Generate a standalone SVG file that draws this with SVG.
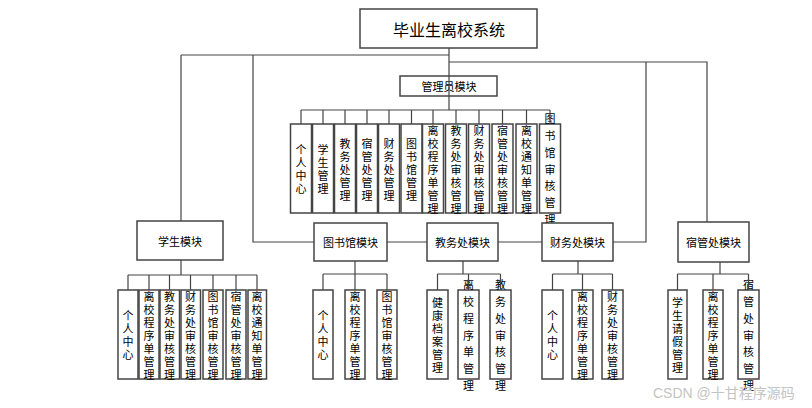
<svg xmlns="http://www.w3.org/2000/svg" width="812" height="408" viewBox="0 0 812 408">
<style>
.b{fill:#fff;stroke:#444;stroke-width:1.5}
.t{font-family:"Noto Sans CJK SC","Noto Sans",sans-serif;font-size:11px;fill:#000;text-anchor:middle;dominant-baseline:central}
.ti{font-size:16px}
.ln{stroke:#444;stroke-width:1.2;fill:none}
.wm{font-family:"Liberation Sans","Noto Sans CJK SC",sans-serif;font-size:14px;fill:#c4c4c4}
</style>
<rect width="812" height="408" fill="#fff"/>
<g id="root"><rect class="b" x="360" y="9" width="177" height="39"/><text class="t ti" x="449" y="29">毕业生离校系统</text></g>
<g id="admin"><rect class="b" x="400" y="76" width="97" height="20"/><text class="t" x="449" y="86">管理员模块</text></g>
<g id="admin-children">
<rect class="b" x="290.5" y="124" width="21" height="89"/><text class="t" x="301" y="149">个<tspan x="301" dy="13">人</tspan><tspan x="301" dy="13">中</tspan><tspan x="301" dy="13">心</tspan></text>
<rect class="b" x="312.5" y="124" width="21" height="89"/><text class="t" x="323" y="149">学<tspan x="323" dy="13">生</tspan><tspan x="323" dy="13">管</tspan><tspan x="323" dy="13">理</tspan></text>
<rect class="b" x="334.5" y="124" width="21" height="89"/><text class="t" x="345" y="142.5">教<tspan x="345" dy="13">务</tspan><tspan x="345" dy="13">处</tspan><tspan x="345" dy="13">管</tspan><tspan x="345" dy="13">理</tspan></text>
<rect class="b" x="356.5" y="124" width="21" height="89"/><text class="t" x="367" y="142.5">宿<tspan x="367" dy="13">管</tspan><tspan x="367" dy="13">处</tspan><tspan x="367" dy="13">管</tspan><tspan x="367" dy="13">理</tspan></text>
<rect class="b" x="378.5" y="124" width="21" height="89"/><text class="t" x="389" y="142.5">财<tspan x="389" dy="13">务</tspan><tspan x="389" dy="13">处</tspan><tspan x="389" dy="13">管</tspan><tspan x="389" dy="13">理</tspan></text>
<rect class="b" x="401" y="124" width="21" height="89"/><text class="t" x="411.5" y="142.5">图<tspan x="411.5" dy="13">书</tspan><tspan x="411.5" dy="13">馆</tspan><tspan x="411.5" dy="13">管</tspan><tspan x="411.5" dy="13">理</tspan></text>
<rect class="b" x="422.5" y="124" width="21" height="89"/><text class="t" x="433" y="129.5">离<tspan x="433" dy="13">校</tspan><tspan x="433" dy="13">程</tspan><tspan x="433" dy="13">序</tspan><tspan x="433" dy="13">单</tspan><tspan x="433" dy="13">管</tspan><tspan x="433" dy="13">理</tspan></text>
<rect class="b" x="445.5" y="124" width="21" height="89"/><text class="t" x="456" y="129.5">教<tspan x="456" dy="13">务</tspan><tspan x="456" dy="13">处</tspan><tspan x="456" dy="13">审</tspan><tspan x="456" dy="13">核</tspan><tspan x="456" dy="13">管</tspan><tspan x="456" dy="13">理</tspan></text>
<rect class="b" x="468.5" y="124" width="21" height="89"/><text class="t" x="479" y="129.5">财<tspan x="479" dy="13">务</tspan><tspan x="479" dy="13">处</tspan><tspan x="479" dy="13">审</tspan><tspan x="479" dy="13">核</tspan><tspan x="479" dy="13">管</tspan><tspan x="479" dy="13">理</tspan></text>
<rect class="b" x="492" y="124" width="21" height="89"/><text class="t" x="502.5" y="129.5">宿<tspan x="502.5" dy="13">管</tspan><tspan x="502.5" dy="13">处</tspan><tspan x="502.5" dy="13">审</tspan><tspan x="502.5" dy="13">核</tspan><tspan x="502.5" dy="13">管</tspan><tspan x="502.5" dy="13">理</tspan></text>
<rect class="b" x="516" y="124" width="21" height="89"/><text class="t" x="526.5" y="129.5">离<tspan x="526.5" dy="13">校</tspan><tspan x="526.5" dy="13">通</tspan><tspan x="526.5" dy="13">知</tspan><tspan x="526.5" dy="13">单</tspan><tspan x="526.5" dy="13">管</tspan><tspan x="526.5" dy="13">理</tspan></text>
<rect class="b" x="539.5" y="124" width="21" height="89"/><text class="t" x="550" y="118.4">图<tspan x="550" dy="16.7">书</tspan><tspan x="550" dy="16.7">馆</tspan><tspan x="550" dy="16.7">审</tspan><tspan x="550" dy="16.7">核</tspan><tspan x="550" dy="16.7">管</tspan><tspan x="550" dy="16.7">理</tspan></text>
</g>
<g id="student"><rect class="b" x="137" y="221" width="86" height="39"/><text class="t" x="180" y="241">学生模块</text></g>
<g id="student-children">
<rect class="b" x="118" y="290" width="20" height="89"/><text class="t" x="128" y="315">个<tspan x="128" dy="13">人</tspan><tspan x="128" dy="13">中</tspan><tspan x="128" dy="13">心</tspan></text>
<rect class="b" x="139" y="290" width="20" height="89"/><text class="t" x="149" y="295.5">离<tspan x="149" dy="13">校</tspan><tspan x="149" dy="13">程</tspan><tspan x="149" dy="13">序</tspan><tspan x="149" dy="13">单</tspan><tspan x="149" dy="13">管</tspan><tspan x="149" dy="13">理</tspan></text>
<rect class="b" x="160" y="290" width="19.5" height="89"/><text class="t" x="169.5" y="295.5">教<tspan x="169.5" dy="13">务</tspan><tspan x="169.5" dy="13">处</tspan><tspan x="169.5" dy="13">审</tspan><tspan x="169.5" dy="13">核</tspan><tspan x="169.5" dy="13">管</tspan><tspan x="169.5" dy="13">理</tspan></text>
<rect class="b" x="181" y="290" width="19.5" height="89"/><text class="t" x="190.5" y="295.5">财<tspan x="190.5" dy="13">务</tspan><tspan x="190.5" dy="13">处</tspan><tspan x="190.5" dy="13">审</tspan><tspan x="190.5" dy="13">核</tspan><tspan x="190.5" dy="13">管</tspan><tspan x="190.5" dy="13">理</tspan></text>
<rect class="b" x="203" y="290" width="20" height="89"/><text class="t" x="213" y="295.5">图<tspan x="213" dy="13">书</tspan><tspan x="213" dy="13">馆</tspan><tspan x="213" dy="13">审</tspan><tspan x="213" dy="13">核</tspan><tspan x="213" dy="13">管</tspan><tspan x="213" dy="13">理</tspan></text>
<rect class="b" x="226" y="290" width="20" height="89"/><text class="t" x="236" y="295.5">宿<tspan x="236" dy="13">管</tspan><tspan x="236" dy="13">处</tspan><tspan x="236" dy="13">审</tspan><tspan x="236" dy="13">核</tspan><tspan x="236" dy="13">管</tspan><tspan x="236" dy="13">理</tspan></text>
<rect class="b" x="248" y="290" width="18.5" height="89"/><text class="t" x="257" y="295.5">离<tspan x="257" dy="13">校</tspan><tspan x="257" dy="13">通</tspan><tspan x="257" dy="13">知</tspan><tspan x="257" dy="13">单</tspan><tspan x="257" dy="13">管</tspan><tspan x="257" dy="13">理</tspan></text>
</g>
<g id="library"><rect class="b" x="314" y="223" width="73" height="38"/><text class="t" x="350.5" y="242">图书馆模块</text></g>
<g id="library-children">
<rect class="b" x="313" y="290" width="20" height="89"/><text class="t" x="323" y="315">个<tspan x="323" dy="13">人</tspan><tspan x="323" dy="13">中</tspan><tspan x="323" dy="13">心</tspan></text>
<rect class="b" x="345" y="290" width="20" height="89"/><text class="t" x="355" y="295.5">离<tspan x="355" dy="13">校</tspan><tspan x="355" dy="13">程</tspan><tspan x="355" dy="13">序</tspan><tspan x="355" dy="13">单</tspan><tspan x="355" dy="13">管</tspan><tspan x="355" dy="13">理</tspan></text>
<rect class="b" x="377" y="290" width="20" height="89"/><text class="t" x="387" y="295.5">图<tspan x="387" dy="13">书</tspan><tspan x="387" dy="13">馆</tspan><tspan x="387" dy="13">审</tspan><tspan x="387" dy="13">核</tspan><tspan x="387" dy="13">管</tspan><tspan x="387" dy="13">理</tspan></text>
</g>
<g id="academic"><rect class="b" x="427" y="223" width="71" height="38"/><text class="t" x="462.5" y="242">教务处模块</text></g>
<g id="academic-children">
<rect class="b" x="427" y="290" width="21" height="89"/><text class="t" x="437.5" y="302">健<tspan x="437.5" dy="13">康</tspan><tspan x="437.5" dy="13">档</tspan><tspan x="437.5" dy="13">案</tspan><tspan x="437.5" dy="13">管</tspan><tspan x="437.5" dy="13">理</tspan></text>
<rect class="b" x="458" y="290" width="21" height="89"/><text class="t" x="468.5" y="284.4">离<tspan x="468.5" dy="16.7">校</tspan><tspan x="468.5" dy="16.7">程</tspan><tspan x="468.5" dy="16.7">序</tspan><tspan x="468.5" dy="16.7">单</tspan><tspan x="468.5" dy="16.7">管</tspan><tspan x="468.5" dy="16.7">理</tspan></text>
<rect class="b" x="490" y="290" width="21" height="89"/><text class="t" x="500.5" y="284.4">教<tspan x="500.5" dy="16.7">务</tspan><tspan x="500.5" dy="16.7">处</tspan><tspan x="500.5" dy="16.7">审</tspan><tspan x="500.5" dy="16.7">核</tspan><tspan x="500.5" dy="16.7">管</tspan><tspan x="500.5" dy="16.7">理</tspan></text>
</g>
<g id="finance"><rect class="b" x="542" y="223" width="71" height="38"/><text class="t" x="577.5" y="242">财务处模块</text></g>
<g id="finance-children">
<rect class="b" x="542" y="290" width="21" height="89"/><text class="t" x="552.5" y="315">个<tspan x="552.5" dy="13">人</tspan><tspan x="552.5" dy="13">中</tspan><tspan x="552.5" dy="13">心</tspan></text>
<rect class="b" x="572" y="290" width="21" height="89"/><text class="t" x="582.5" y="295.5">离<tspan x="582.5" dy="13">校</tspan><tspan x="582.5" dy="13">程</tspan><tspan x="582.5" dy="13">序</tspan><tspan x="582.5" dy="13">单</tspan><tspan x="582.5" dy="13">管</tspan><tspan x="582.5" dy="13">理</tspan></text>
<rect class="b" x="602" y="290" width="21" height="89"/><text class="t" x="612.5" y="295.5">财<tspan x="612.5" dy="13">务</tspan><tspan x="612.5" dy="13">处</tspan><tspan x="612.5" dy="13">审</tspan><tspan x="612.5" dy="13">核</tspan><tspan x="612.5" dy="13">管</tspan><tspan x="612.5" dy="13">理</tspan></text>
</g>
<g id="dorm"><rect class="b" x="678" y="222" width="71" height="40"/><text class="t" x="713.5" y="242">宿管处模块</text></g>
<g id="dorm-children">
<rect class="b" x="668" y="290" width="19" height="89"/><text class="t" x="677.5" y="302">学<tspan x="677.5" dy="13">生</tspan><tspan x="677.5" dy="13">请</tspan><tspan x="677.5" dy="13">假</tspan><tspan x="677.5" dy="13">管</tspan><tspan x="677.5" dy="13">理</tspan></text>
<rect class="b" x="703" y="290" width="20" height="89"/><text class="t" x="713" y="295.5">离<tspan x="713" dy="13">校</tspan><tspan x="713" dy="13">程</tspan><tspan x="713" dy="13">序</tspan><tspan x="713" dy="13">单</tspan><tspan x="713" dy="13">管</tspan><tspan x="713" dy="13">理</tspan></text>
<rect class="b" x="738" y="290" width="21" height="89"/><text class="t" x="748.5" y="284.4">宿<tspan x="748.5" dy="16.7">管</tspan><tspan x="748.5" dy="16.7">处</tspan><tspan x="748.5" dy="16.7">审</tspan><tspan x="748.5" dy="16.7">核</tspan><tspan x="748.5" dy="16.7">管</tspan><tspan x="748.5" dy="16.7">理</tspan></text>
</g>
<g id="connectors" class="ln">
<path d="M449 48V110M181 55H449M181 55V221M253 55V242H314M387 242H427M498 242H542M613 242H646V62M449 62H707V222"/>
<path d="M301 110H550M301 110V124M323 110V124M345 110V124M367 110V124M389 110V124M411.5 110V124M433 110V124M456 110V124M479 110V124M502.5 110V124M526.5 110V124M550 110V124"/>
<path d="M181 260V275M128 275H257M128 275V290M149 275V290M169.5 275V290M190.5 275V290M213 275V290M236 275V290M257 275V290"/>
<path d="M355 261V274M323 274H387M323 274V290M355 274V290M387 274V290"/>
<path d="M463 261V274M437.5 274H500.5M437.5 274V290M468.5 274V290M500.5 274V290"/>
<path d="M578 261V274M552.5 274H612.5M552.5 274V290M582.5 274V290M612.5 274V290"/>
<path d="M720 262V274M677.5 274H748.5M677.5 274V290M713 274V290M748.5 274V290"/>
</g>
<text class="wm" x="653" y="398">CSDN @十甘程序源码</text>
</svg>
